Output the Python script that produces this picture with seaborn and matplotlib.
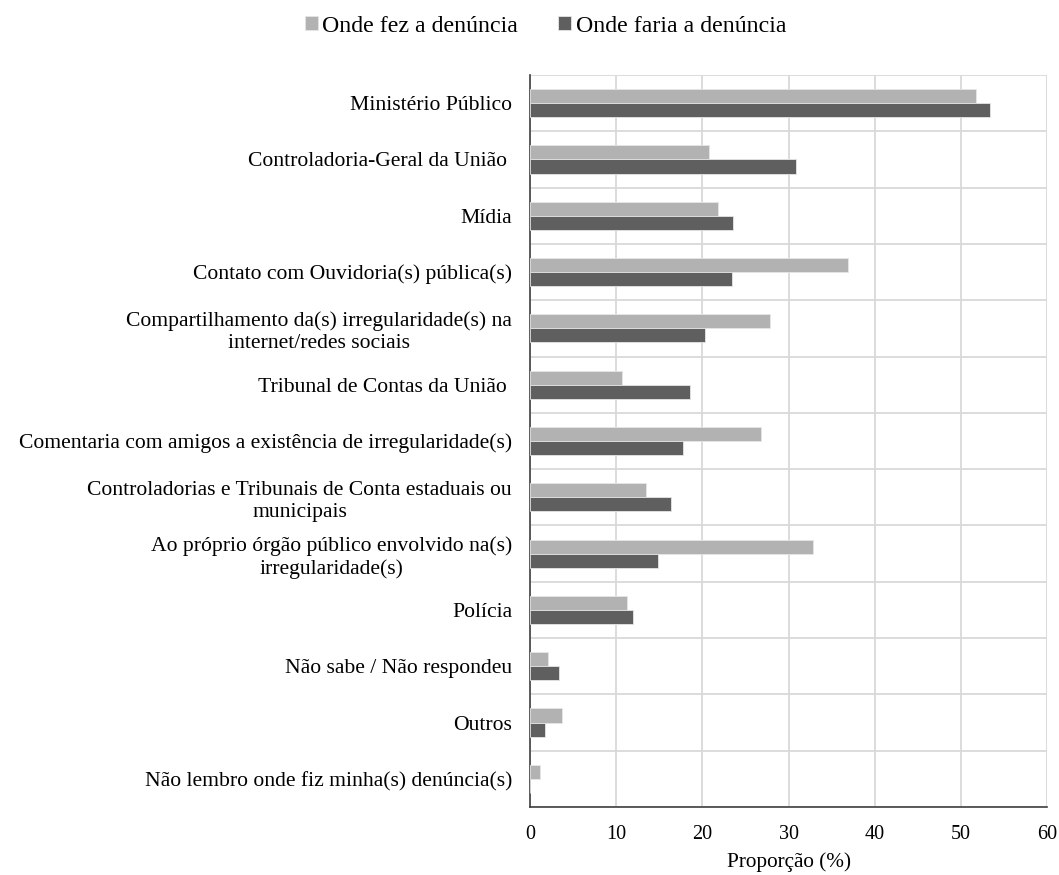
import numpy as np
import pandas as pd
import seaborn as sns
import matplotlib.pyplot as plt

# ========== data ==========
categorias = [
    "Ministério Público",
    "Controladoria-Geral da União ",
    "Mídia",
    "Contato com Ouvidoria(s) pública(s)",
    "Compartilhamento da(s) irregularidade(s) na\ninternet/redes sociais",
    "Tribunal de Contas da União ",
    "Comentaria com amigos a existência de irregularidade(s)",
    "Controladorias e Tribunais de Conta estaduais ou\nmunicipais",
    "Ao próprio órgão público envolvido na(s)\nirregularidade(s)",
    "Polícia",
    "Não sabe / Não respondeu",
    "Outros",
    "Não lembro onde fiz minha(s) denúncia(s)",
]
fez = [51.7, 20.8, 21.8, 36.9, 27.8, 10.7, 26.8, 13.5, 32.8, 11.3, 2.1, 3.7, 1.2]
faria = [53.4, 30.9, 23.5, 23.4, 20.3, 18.6, 17.7, 16.4, 14.9, 11.9, 3.4, 1.7, 0.0]
series = ["Onde fez a denúncia", "Onde faria a denúncia"]

df = pd.DataFrame({
    "categoria": categorias * 2,
    "valor": fez + faria,
    "serie": [series[0]] * len(categorias) + [series[1]] * len(categorias),
})

sns.set_style("white")
plt.rcParams['font.family'] = ['Liberation Serif', 'DejaVu Serif']
plt.rcParams['text.color'] = 'black'
plt.rcParams['xtick.color'] = 'black'
plt.rcParams['ytick.color'] = 'black'
plt.rcParams['axes.labelcolor'] = 'black'

fig = plt.figure(figsize=(10.59, 8.75), dpi=100)
ax = fig.add_axes([0.5005, 0.0777, 0.4882, 0.8366])

sns.barplot(data=df, y="categoria", x="valor", hue="serie", orient="h",
            palette=["#b2b2b2", "#5f5f5f"], width=0.5, ax=ax,
            edgecolor="#e6e6e6", linewidth=0.6, zorder=3)

n = len(categorias)
ax.set_xlim(0, 60)
ax.set_ylim(n - 0.5, -0.5)
ax.set_xticks(np.arange(0, 61, 10))
ax.set_yticks(np.arange(-0.5, n, 1.0), minor=True)
ax.tick_params(axis="y", which="major", length=0, labelsize=15.6, pad=13)
ax.tick_params(axis="y", which="minor", length=5, width=1, color="#404040", direction="out")
ax.tick_params(axis="x", length=5, width=1, color="#404040", labelsize=14.5, pad=8)
for lab in ax.get_yticklabels():
    lab.set_multialignment("center")

ax.grid(axis="x", which="major", color="#d9d9d9", linewidth=1.3, zorder=0)
ax.grid(axis="y", which="minor", color="#d9d9d9", linewidth=1.3, zorder=0)
ax.grid(axis="y", which="major", visible=False)
ax.set_axisbelow(True)

sns.despine(ax=ax, top=True, right=True)
ax.spines["left"].set_color("#404040")
ax.spines["bottom"].set_color("#404040")
ax.spines["left"].set_linewidth(1.2)
ax.spines["bottom"].set_linewidth(1.2)

ax.set_ylabel("")
ax.set_xlabel("Proporção (%)", fontsize=15.3, labelpad=6)

ax.legend_.remove()
handles, labels = ax.get_legend_handles_labels()
fig.legend(handles, labels, loc="center", bbox_to_anchor=(0.515, 0.97), ncol=2,
           frameon=False, fontsize=17.2, handlelength=0.55, handleheight=0.55,
           handletextpad=0.2, columnspacing=1.65)

fig.savefig("out.png", dpi=100)
